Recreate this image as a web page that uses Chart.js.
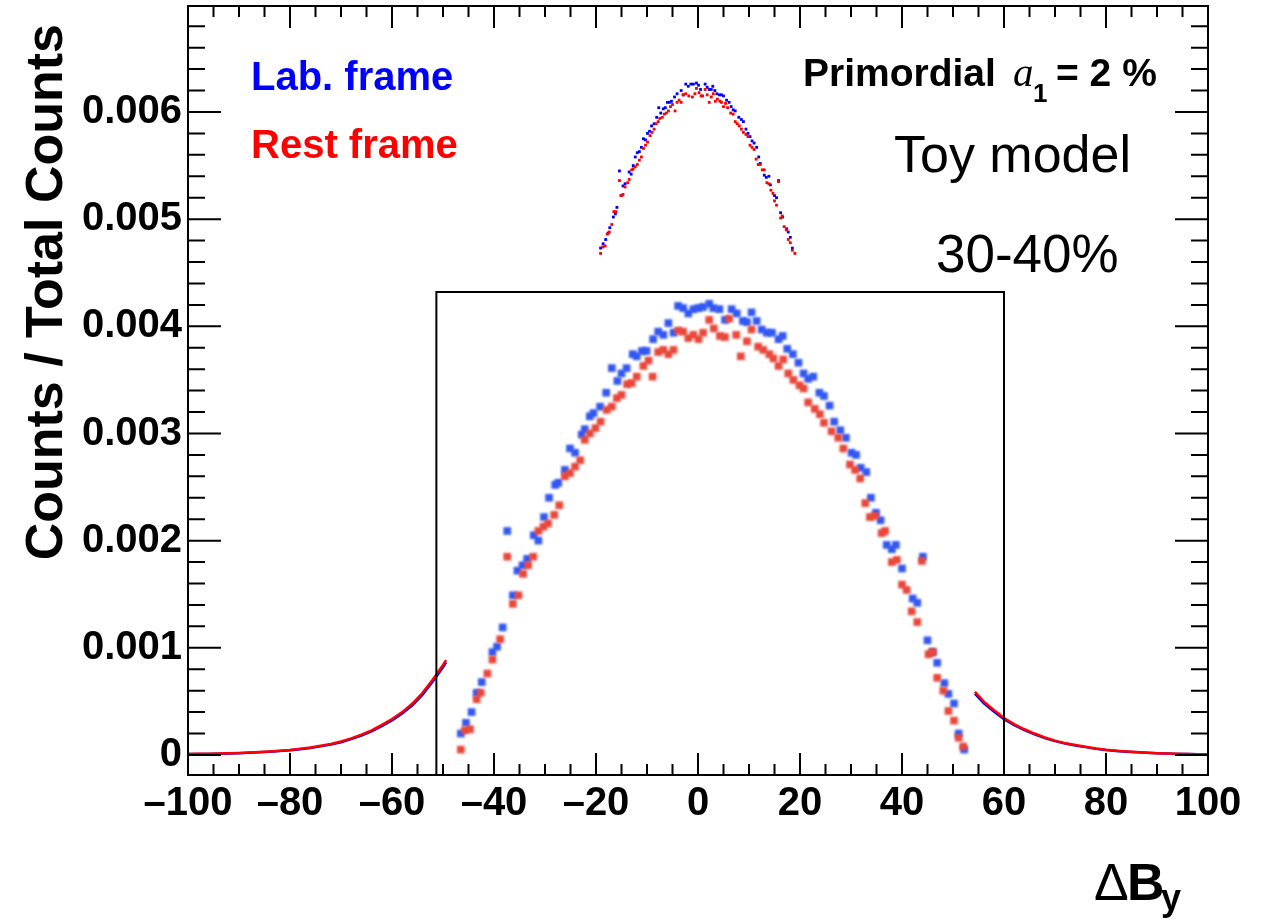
<!DOCTYPE html>
<html>
<head>
<meta charset="utf-8">
<script src="https://cdn.jsdelivr.net/npm/chart.js@4.4.1/dist/chart.umd.min.js"></script>
<style>
  html, body { margin: 0; padding: 0; background: #fff; }
  #wrap { width: 1261px; height: 920px; }
</style>
</head>
<body>
<div id="wrap"><canvas id="dist" width="1261" height="920"></canvas></div>
<script>
// Axis ticks
const xTickValues = [-100, -80, -60, -40, -20, 0, 20, 40, 60, 80, 100];
const yTickValues = [0, 0.001, 0.002, 0.003, 0.004, 0.005, 0.006];

// Peak of the full distribution (top part, above the zoom box)
const labPeakX = [-19.1, -18.6, -18.1, -17.6, -17.3, -16.6, -16.2, -15.9, -15.4, -15.1, -14.7, -14.3, -13.5, -13.1, -12.7, -12.3, -11.9, -11.5, -11.1, -10.7, -10.3, -9.9, -9.5, -9.1, -8.6, -8.1, -7.7, -7.3, -6.8, -6.4, -6.0, -5.6, -5.2, -4.6, -4.1, -3.3, -2.9, -2.4, -1.9, -1.4, -0.9, -0.3, 0.1, 0.5, 1.4, 1.8, 2.2, 2.6, 2.9, 3.3, 3.7, 4.2, 4.6, 5.0, 5.6, 6.1, 6.5, 6.9, 7.3, 8.0, 8.5, 8.9, 9.4, 9.8, 10.2, 10.6, 11.0, 11.5, 11.9, 12.2, 13.0, 13.4, 13.9, 14.2, 15.0, 15.4, 15.8, 16.2, 16.6, 17.4, 17.7, 18.1, 18.5];
const labPeakY = [0.00473, 0.00477, 0.00481, 0.00487, 0.00492, 0.00502, 0.00505, 0.00511, 0.00545, 0.00522, 0.00531, 0.00533, 0.00544, 0.00542, 0.00550, 0.00558, 0.00562, 0.00563, 0.00567, 0.00575, 0.00574, 0.00580, 0.00582, 0.00587, 0.00589, 0.00595, 0.00604, 0.00599, 0.00603, 0.00604, 0.00609, 0.00609, 0.00610, 0.00614, 0.00617, 0.00620, 0.00616, 0.00626, 0.00624, 0.00626, 0.00626, 0.00627, 0.00625, 0.00621, 0.00626, 0.00623, 0.00621, 0.00621, 0.00624, 0.00620, 0.00617, 0.00616, 0.00616, 0.00615, 0.00611, 0.00609, 0.00605, 0.00602, 0.00601, 0.00595, 0.00593, 0.00591, 0.00584, 0.00580, 0.00577, 0.00573, 0.00571, 0.00567, 0.00558, 0.00552, 0.00541, 0.00539, 0.00540, 0.00532, 0.00522, 0.00520, 0.00536, 0.00506, 0.00502, 0.00491, 0.00488, 0.00483, 0.00473];
const restPeakX = [-19.1, -18.7, -18.2, -17.8, -17.4, -16.9, -16.5, -16.1, -15.4, -15.0, -14.7, -14.3, -13.8, -13.5, -13.0, -12.7, -12.3, -11.9, -11.5, -11.1, -10.7, -10.3, -9.9, -9.4, -9.0, -8.6, -8.2, -7.8, -7.5, -7.0, -6.6, -6.2, -5.8, -5.4, -5.0, -4.5, -4.1, -3.7, -3.3, -2.9, -2.4, -1.8, -1.1, -0.6, -0.3, 0.2, 0.6, 0.9, 1.4, 1.8, 2.2, 2.6, 3.0, 3.4, 3.8, 4.3, 4.6, 5.0, 5.4, 5.8, 6.4, 6.9, 7.3, 7.7, 8.1, 8.5, 8.9, 9.4, 9.8, 10.2, 10.6, 11.0, 11.4, 11.8, 12.2, 12.6, 13.0, 13.5, 13.9, 14.3, 14.7, 15.0, 15.4, 15.8, 16.2, 16.5, 16.9, 17.3, 17.7, 18.1, 18.5, 19.0];
const restPeakY = [0.00468, 0.00474, 0.00475, 0.00486, 0.00488, 0.00495, 0.00507, 0.00507, 0.00536, 0.00522, 0.00523, 0.00530, 0.00534, 0.00537, 0.00546, 0.00547, 0.00549, 0.00551, 0.00555, 0.00558, 0.00566, 0.00569, 0.00572, 0.00578, 0.00581, 0.00584, 0.00589, 0.00591, 0.00594, 0.00595, 0.00598, 0.00599, 0.00601, 0.00605, 0.00607, 0.00601, 0.00609, 0.00611, 0.00609, 0.00616, 0.00617, 0.00615, 0.00614, 0.00617, 0.00622, 0.00618, 0.00615, 0.00615, 0.00621, 0.00616, 0.00609, 0.00614, 0.00617, 0.00610, 0.00612, 0.00610, 0.00609, 0.00605, 0.00608, 0.00604, 0.00599, 0.00598, 0.00591, 0.00589, 0.00587, 0.00584, 0.00581, 0.00579, 0.00577, 0.00569, 0.00567, 0.00565, 0.00556, 0.00551, 0.00551, 0.00546, 0.00546, 0.00534, 0.00533, 0.00527, 0.00524, 0.00517, 0.00513, 0.00535, 0.00501, 0.00503, 0.00493, 0.00490, 0.00481, 0.00478, 0.00471, 0.00468];

// Tails of the full distribution
const leftTailX = [-100, -98, -96, -94, -92, -90, -88, -86, -84, -82, -80, -78, -76, -74, -72, -70, -68, -66, -64, -62, -60, -58, -56, -54, -52, -50, -49.4];
const labLeftY = [0.000008, 0.000009, 0.000010, 0.000012, 0.000014, 0.000017, 0.000021, 0.000025, 0.000030, 0.000036, 0.000044, 0.000054, 0.000066, 0.000080, 0.000097, 0.000119, 0.000148, 0.000182, 0.000220, 0.000268, 0.000322, 0.000386, 0.000464, 0.000562, 0.000685, 0.000818, 0.000865];
const restLeftY = [0.000010, 0.000011, 0.000012, 0.000014, 0.000016, 0.000019, 0.000023, 0.000027, 0.000032, 0.000039, 0.000047, 0.000058, 0.000070, 0.000085, 0.000102, 0.000125, 0.000155, 0.000190, 0.000230, 0.000280, 0.000335, 0.000400, 0.000480, 0.000580, 0.000705, 0.000840, 0.000885];
const rightTailX = [54.3, 56, 58, 60, 62, 64, 66, 68, 70, 72, 74, 76, 78, 80, 82, 84, 86, 88, 90, 92, 94, 96, 98, 100];
const labRightY = [0.000572, 0.000485, 0.000405, 0.000333, 0.000278, 0.000231, 0.000192, 0.000157, 0.000129, 0.000106, 0.000088, 0.000073, 0.000058, 0.000046, 0.000038, 0.000031, 0.000025, 0.000020, 0.000016, 0.000013, 0.000010, 0.000008, 0.000006, 0.000005];
const restRightY = [0.000590, 0.000500, 0.000420, 0.000345, 0.000288, 0.000240, 0.000200, 0.000163, 0.000134, 0.000110, 0.000092, 0.000076, 0.000060, 0.000048, 0.000040, 0.000033, 0.000027, 0.000021, 0.000017, 0.000014, 0.000011, 0.000009, 0.000007, 0.000006];

// Zoomed view of the central region
const labZoomX = [-46.5, -45.5, -44.4, -43.4, -42.4, -40.3, -39.4, -38.3, -37.4, -36.3, -35.4, -34.4, -33.5, -32.2, -31.3, -30.2, -29.2, -28.0, -27.4, -26.1, -25.1, -24.1, -22.8, -22.2, -21.2, -20.5, -19.2, -18.0, -16.9, -15.8, -15.0, -14.0, -12.8, -12.0, -11.0, -10.1, -8.8, -7.8, -6.8, -5.8, -4.8, -3.9, -2.9, -1.9, -0.9, 0.1, 1.0, 2.2, 3.0, 4.2, 5.3, 6.6, 7.6, 8.8, 9.6, 10.5, 11.5, 12.5, 13.5, 14.5, 15.8, 16.6, 17.5, 18.6, 19.7, 20.7, 21.6, 22.6, 23.8, 24.7, 25.8, 26.7, 27.9, 29.0, 30.1, 31.0, 31.9, 33.0, 33.9, 34.9, 35.8, 37.0, 38.0, 38.8, 40.0, 42.1, 43.0, 44.1, 45.0, 46.0, 46.9, 48.3, 49.1, 50.2, 51.1, 52.2];
const labZoomY = [0.00020, 0.00030, 0.00040, 0.00058, 0.00068, 0.00096, 0.00101, 0.00119, 0.00209, 0.00149, 0.00172, 0.00177, 0.00183, 0.00205, 0.00200, 0.00222, 0.00240, 0.00252, 0.00254, 0.00266, 0.00286, 0.00282, 0.00299, 0.00304, 0.00316, 0.00319, 0.00325, 0.00338, 0.00361, 0.00349, 0.00356, 0.00361, 0.00374, 0.00372, 0.00377, 0.00377, 0.00388, 0.00395, 0.00392, 0.00403, 0.00394, 0.00419, 0.00417, 0.00412, 0.00416, 0.00417, 0.00418, 0.00421, 0.00417, 0.00416, 0.00406, 0.00416, 0.00412, 0.00405, 0.00404, 0.00413, 0.00405, 0.00397, 0.00394, 0.00394, 0.00388, 0.00391, 0.00379, 0.00374, 0.00366, 0.00356, 0.00351, 0.00353, 0.00338, 0.00335, 0.00326, 0.00311, 0.00303, 0.00296, 0.00282, 0.00280, 0.00268, 0.00264, 0.00240, 0.00226, 0.00219, 0.00196, 0.00192, 0.00196, 0.00174, 0.00146, 0.00142, 0.00185, 0.00107, 0.00096, 0.00086, 0.00067, 0.00057, 0.00048, 0.00020, 0.00005];
const restZoomX = [-46.5, -45.7, -44.7, -43.4, -42.6, -41.3, -40.3, -38.8, -37.4, -36.3, -35.2, -34.3, -33.3, -32.3, -31.3, -30.3, -29.4, -28.2, -27.2, -26.1, -25.1, -24.1, -23.1, -22.2, -21.2, -20.1, -19.1, -17.9, -16.9, -15.9, -15.0, -13.9, -13.0, -12.0, -10.7, -9.7, -8.9, -7.8, -6.8, -5.8, -4.8, -3.9, -2.9, -1.9, -0.9, 0.1, 1.0, 2.2, 3.1, 4.3, 5.3, 6.1, 7.5, 8.4, 9.6, 10.5, 11.8, 12.8, 14.0, 14.8, 15.8, 16.7, 17.7, 18.7, 19.9, 20.7, 21.6, 22.9, 23.9, 24.7, 26.2, 27.5, 28.5, 29.8, 30.8, 31.8, 32.8, 33.7, 34.7, 36.0, 36.7, 38.0, 39.0, 40.0, 40.9, 41.9, 43.0, 43.9, 45.2, 46.0, 46.9, 48.1, 49.1, 50.2, 51.1, 52.0];
const restZoomY = [0.00005, 0.00023, 0.00024, 0.00052, 0.00058, 0.00076, 0.00089, 0.00108, 0.00185, 0.00141, 0.00149, 0.00169, 0.00177, 0.00185, 0.00209, 0.00213, 0.00216, 0.00224, 0.00233, 0.00260, 0.00263, 0.00269, 0.00275, 0.00294, 0.00300, 0.00305, 0.00311, 0.00322, 0.00325, 0.00333, 0.00336, 0.00346, 0.00347, 0.00353, 0.00363, 0.00368, 0.00353, 0.00376, 0.00378, 0.00374, 0.00378, 0.00396, 0.00395, 0.00389, 0.00392, 0.00388, 0.00394, 0.00406, 0.00398, 0.00391, 0.00390, 0.00407, 0.00392, 0.00372, 0.00386, 0.00397, 0.00381, 0.00378, 0.00374, 0.00370, 0.00363, 0.00369, 0.00356, 0.00350, 0.00345, 0.00342, 0.00329, 0.00323, 0.00318, 0.00310, 0.00302, 0.00296, 0.00286, 0.00271, 0.00266, 0.00258, 0.00235, 0.00222, 0.00223, 0.00207, 0.00209, 0.00180, 0.00182, 0.00159, 0.00154, 0.00134, 0.00124, 0.00181, 0.00094, 0.00096, 0.00072, 0.00060, 0.00041, 0.00032, 0.00016, 0.00008];

// zoom box edges, in axis units
const zoomBox = { left: -51.3, right: 60.0, top: 0.00432 };

const SANS = '"Liberation Sans", Arial, Helvetica, sans-serif';
const LAB = '#0000ff';
const REST = '#ff0000';

const pts = (xs, ys) => xs.map((x, i) => ({ x: x, y: ys[i] }));

// ROOT-like frame: border, ticks on all four sides, zoom box outline
const frame = {
  id: 'frame',
  afterDatasetsDraw(chart) {
    const { ctx, chartArea: a } = chart;
    const xs = chart.scales.x, ys = chart.scales.y;
    ctx.save();
    ctx.strokeStyle = '#000';
    ctx.lineWidth = 2;

    const bl = xs.getPixelForValue(zoomBox.left);
    const br = xs.getPixelForValue(zoomBox.right);
    const bt = ys.getPixelForValue(zoomBox.top);
    ctx.beginPath();
    ctx.moveTo(bl, a.bottom);
    ctx.lineTo(bl, bt);
    ctx.lineTo(br, bt);
    ctx.lineTo(br, a.bottom);
    ctx.stroke();

    ctx.beginPath();
    for (let v = -100; v <= 100; v += 5) {
      const px = xs.getPixelForValue(v);
      const len = v % 20 === 0 ? 22 : 11;
      ctx.moveTo(px, a.bottom); ctx.lineTo(px, a.bottom - len);
      ctx.moveTo(px, a.top); ctx.lineTo(px, a.top + len);
    }
    for (let i = 0; i <= 34; i++) {
      const py = ys.getPixelForValue(i * 0.0002);
      const len = i % 5 === 0 ? 33 : 17;
      ctx.moveTo(a.left, py); ctx.lineTo(a.left + len, py);
      ctx.moveTo(a.right, py); ctx.lineTo(a.right - len, py);
    }
    ctx.stroke();
    ctx.strokeRect(a.left, a.top, a.right - a.left, a.bottom - a.top);
    ctx.restore();
  }
};

// the zoomed points come from a scaled-up picture, so draw them slightly soft
const soften = {
  id: 'soften',
  beforeDatasetDraw(chart, args) {
    if (chart.data.datasets[args.index].soft) {
      chart.ctx.save();
      chart.ctx.filter = 'blur(1px)';
    }
  },
  afterDatasetDraw(chart, args) {
    if (chart.data.datasets[args.index].soft) chart.ctx.restore();
  }
};

// axis titles and labels
const labels = {
  id: 'labels',
  afterDraw(chart) {
    const ctx = chart.ctx;
    ctx.save();
    ctx.textBaseline = 'alphabetic';
    ctx.textAlign = 'left';

    ctx.font = 'bold 40px ' + SANS;
    ctx.fillStyle = LAB;
    ctx.fillText('Lab. frame', 251, 90);
    ctx.fillStyle = REST;
    ctx.fillText('Rest frame', 251, 158);

    ctx.fillStyle = '#000';
    ctx.font = 'bold 39px ' + SANS;
    ctx.fillText('Primordial', 803, 86);
    ctx.font = 'italic 41px "Liberation Serif", "Times New Roman", serif';
    ctx.fillText('a', 1013, 86);
    ctx.font = 'bold 26px ' + SANS;
    ctx.fillText('1', 1033, 102);
    ctx.font = 'bold 39px ' + SANS;
    ctx.fillText('= 2 %', 1056, 86);

    ctx.font = '52px ' + SANS;
    ctx.fillText('Toy model', 894, 172);
    ctx.font = '53px ' + SANS;
    ctx.fillText('30-40%', 936, 272);

    // x title
    ctx.font = '52px ' + SANS;
    ctx.fillText('\u0394', 1094, 900);
    ctx.font = 'bold 52px ' + SANS;
    ctx.fillText('B', 1127, 900);
    ctx.font = 'bold 36px ' + SANS;
    ctx.fillText('y', 1161, 910);

    // y title
    ctx.translate(62, 24);
    ctx.rotate(-Math.PI / 2);
    ctx.textAlign = 'right';
    ctx.font = 'bold 52px ' + SANS;
    ctx.fillText('Counts / Total Counts', 0, 0);
    ctx.restore();
  }
};

const tickFont = { family: SANS, size: 40, weight: 'bold' };

new Chart(document.getElementById('dist'), {
  type: 'scatter',
  data: {
    datasets: [
      { data: pts(restZoomX, restZoomY), backgroundColor: '#e9473a', borderWidth: 0, pointStyle: 'rect', pointRadius: 5.4, soft: true, order: 4 },
      { data: pts(labZoomX, labZoomY), backgroundColor: '#3257f2', borderWidth: 0, pointStyle: 'rect', pointRadius: 5.4, soft: true, order: 5 },
      { data: pts(restPeakX, restPeakY), backgroundColor: REST, borderWidth: 0, pointStyle: 'rect', pointRadius: 2, order: 0 },
      { data: pts(labPeakX, labPeakY), backgroundColor: LAB, borderWidth: 0, pointStyle: 'rect', pointRadius: 2, order: 1 },
      { data: pts(leftTailX, restLeftY), showLine: true, borderColor: REST, borderWidth: 2.5, pointRadius: 0, order: 2 },
      { data: pts(rightTailX, restRightY), showLine: true, borderColor: REST, borderWidth: 2.5, pointRadius: 0, order: 2 },
      { data: pts(leftTailX, labLeftY), showLine: true, borderColor: LAB, borderWidth: 2.5, pointRadius: 0, order: 3 },
      { data: pts(rightTailX, labRightY), showLine: true, borderColor: LAB, borderWidth: 2.5, pointRadius: 0, order: 3 }
    ]
  },
  options: {
    responsive: false,
    animation: false,
    devicePixelRatio: 1,
    layout: { padding: { top: 6, right: 53, left: 0, bottom: 0 } },
    plugins: { legend: { display: false }, tooltip: { enabled: false } },
    scales: {
      x: {
        type: 'linear',
        min: -100,
        max: 100,
        afterBuildTicks: s => { s.ticks = xTickValues.map(v => ({ value: v })); },
        afterFit: s => { s.height = 145; s.paddingLeft = 0; s.paddingRight = 0; },
        grid: { display: false, drawTicks: false },
        border: { display: false },
        ticks: {
          autoSkip: false, maxRotation: 0, minRotation: 0, padding: 5,
          color: '#000', font: tickFont,
          callback: v => (v < 0 ? '\u2013' + (-v) : String(v))
        }
      },
      y: {
        type: 'linear',
        min: -0.000187,
        max: 0.006989,
        afterBuildTicks: s => { s.ticks = yTickValues.map(v => ({ value: v })); },
        afterFit: s => { s.width = 188; s.paddingTop = 0; s.paddingBottom = 0; },
        grid: { display: false, drawTicks: false },
        border: { display: false },
        ticks: {
          autoSkip: false, padding: 6,
          color: '#000', font: tickFont,
          callback: v => (v === 0 ? '0' : v.toFixed(3))
        }
      }
    }
  },
  plugins: [soften, frame, labels]
});
</script>
</body>
</html>
